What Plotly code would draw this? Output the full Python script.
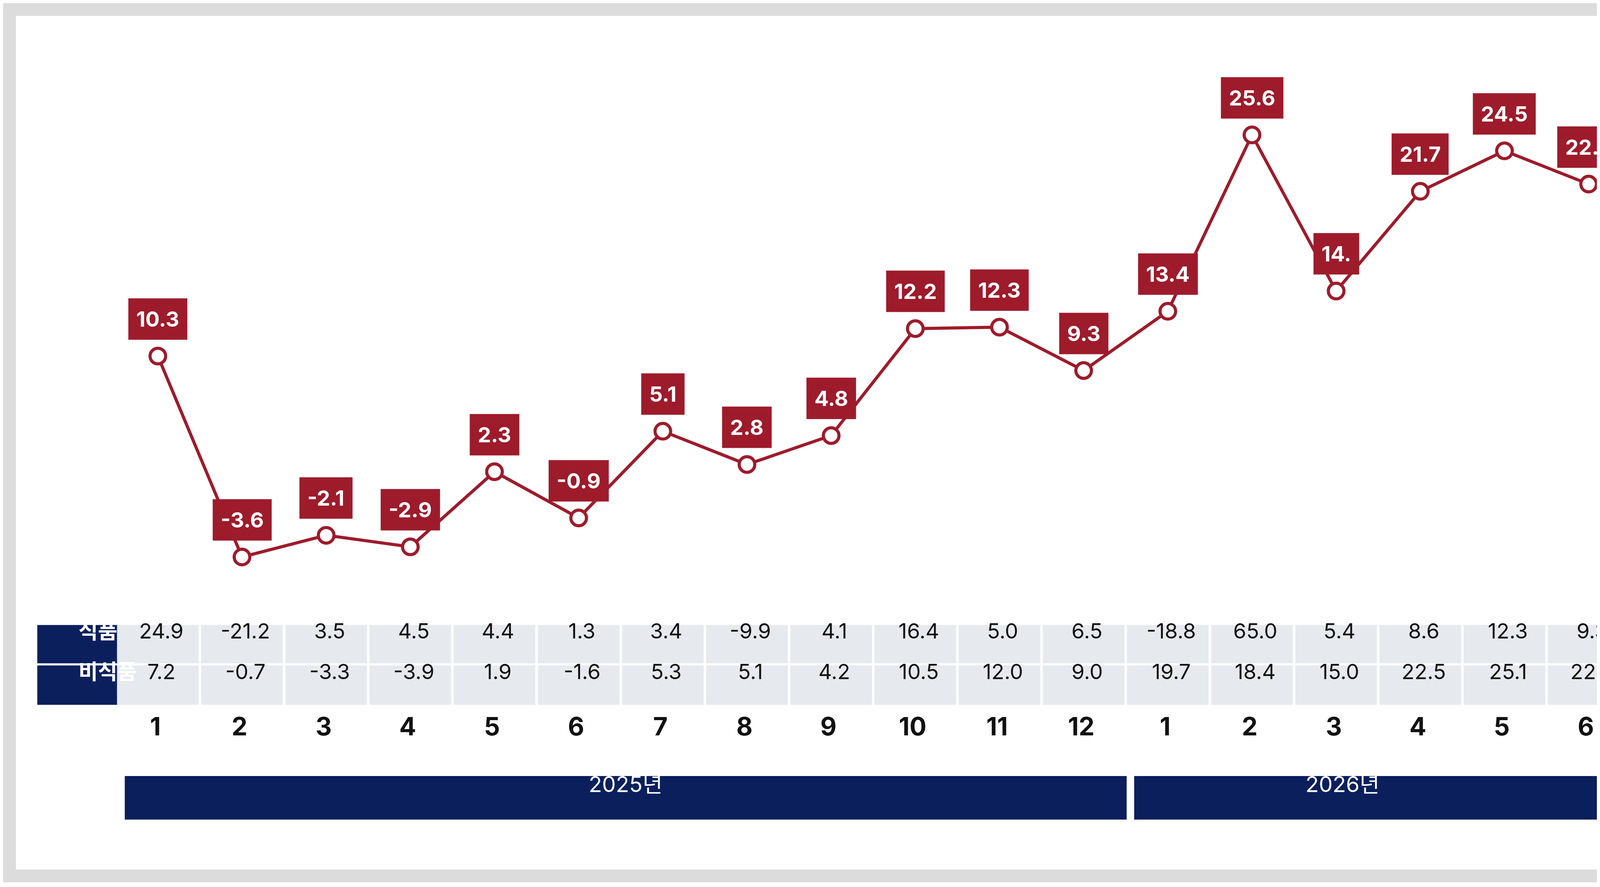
import plotly.graph_objects as go

months = [1, 2, 3, 4, 5, 6, 7, 8, 9, 10, 11, 12, 1, 2, 3, 4, 5, 6]
total = [10.3, -3.6, -2.1, -2.9, 2.3, -0.9, 5.1, 2.8, 4.8, 12.2, 12.3, 9.3,
         13.4, 25.6, 14.8, 21.7, 24.5, 22.2]
labels = ["10.3", "-3.6", "-2.1", "-2.9", "2.3", "-0.9", "5.1", "2.8", "4.8", "12.2",
          "12.3", "9.3", "13.4", "25.6", "14.", "21.7", "24.5", "22.2"]
food = ["24.9", "-21.2", "3.5", "4.5", "4.4", "1.3", "3.4", "-9.9", "4.1", "16.4",
        "5.0", "6.5", "-18.8", "65.0", "5.4", "8.6", "12.3", "9.3"]
nonfood = ["7.2", "-0.7", "-3.3", "-3.9", "1.9", "-1.6", "5.3", "5.1", "4.2", "10.5",
           "12.0", "9.0", "19.7", "18.4", "15.0", "22.5", "25.1", "22.7"]
row_names = ["식품", "비식품"]
years = ["2025년", "2026년"]

W, H = 4283, 2250  # leave room for the page's body margin
RED = "#9e1b2b"
NAVY = "#0b1f5c"
FONT = "Inter, Noto Sans CJK KR"

def py(y):  # reference display pixel -> paper fraction
    return 1 - y / 827

def px(x):  # reference display pixel -> x data
    return (x - 145) / 78.88

fig = go.Figure()
fig.add_trace(go.Scatter(
    x=list(range(len(total))), y=total, mode="lines+markers",
    line=dict(color=RED, width=8),
    marker=dict(size=40, color="white", line=dict(color=RED, width=8)),
    hoverinfo="skip"))

shapes = [dict(type="rect", xref="paper", yref="paper", x0=12 / 1568, x1=1556 / 1568,
               y0=py(815), y1=py(12), fillcolor="white", line_width=0, layer="below")]
ann = []

for i, (v, t) in enumerate(zip(total, labels)):
    ann.append(dict(x=i, y=v, text=f"<b>{t}</b>", showarrow=False, yshift=95,
                    bgcolor=RED, borderpad=20, font=dict(color="white", size=54, family=FONT)))

rows = [(food, 585, 621), (nonfood, 623, 660)]
for r, (vals, y0, y1) in enumerate(rows):
    shapes.append(dict(type="rect", xref="paper", yref="paper", x0=32 / 1568, x1=108 / 1568,
                       y0=py(y1), y1=py(y0), fillcolor=NAVY, line_width=0))
    ann.append(dict(xref="paper", yref="paper", x=70 / 1568, y=py((y0 + y1) / 2),
                    text=f"<b>{row_names[r]}</b>", showarrow=False,
                    font=dict(color="white", size=54, family="Noto Sans CJK KR"), yshift=-4))
    for i, v in enumerate(vals):
        shapes.append(dict(type="rect", xref="x", yref="paper", x0=i - 0.485, x1=i + 0.485,
                           y0=py(y1), y1=py(y0), fillcolor="#e6e9ee", line_width=0))
        ann.append(dict(x=i + 0.04, yref="paper", y=py((y0 + y1) / 2), text=v, showarrow=False,
                        font=dict(color="#111", size=54, family=FONT)))

for i, m in enumerate(months):
    ann.append(dict(x=i - 0.03, yref="paper", y=py(695), text=f"<b>{m}</b>", showarrow=False,
                    font=dict(color="#111", size=64, family=FONT)))

for (x0, x1), t in zip([(114, 1053), (1060, 1522)], years):
    shapes.append(dict(type="rect", xref="paper", yref="paper", x0=x0 / 1568, x1=x1 / 1568,
                       y0=py(768), y1=py(727), fillcolor=NAVY, line_width=0))
    ann.append(dict(xref="paper", yref="paper", x=(x0 + x1) / 2 / 1568, y=py(748), text=t,
                    showarrow=False, font=dict(color="white", size=56, family=FONT)))

fig.update_layout(
    width=W, height=H, margin=dict(l=0, r=0, t=0, b=0), autosize=False,
    paper_bgcolor="#dcdcdc", plot_bgcolor="rgba(0,0,0,0)", showlegend=False,
    xaxis=dict(range=[px(0), px(1568)], visible=False, fixedrange=True),
    yaxis=dict(range=[10.3 - 495 / 13.595, 10.3 + 332 / 13.595], visible=False),
    shapes=shapes, annotations=ann)

fig.write_html("out.html", config={"displayModeBar": False})
